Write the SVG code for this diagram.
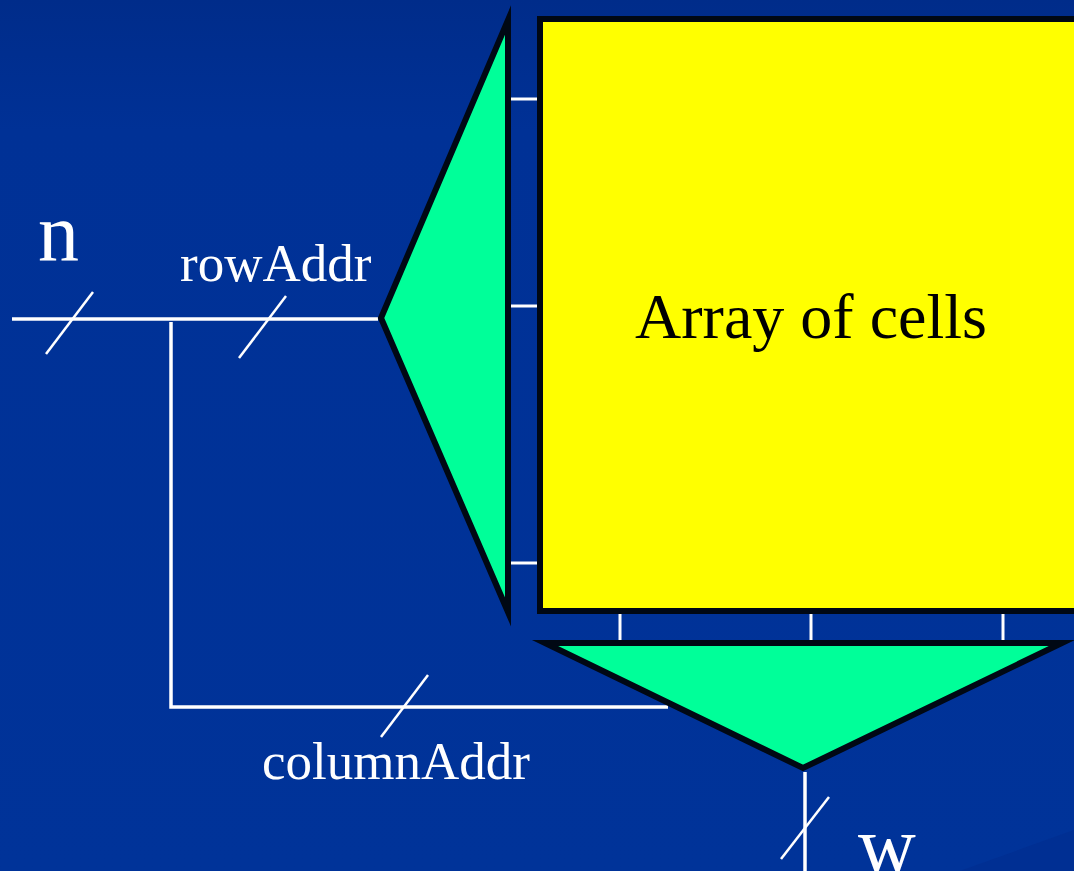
<svg xmlns="http://www.w3.org/2000/svg" width="1074" height="871" viewBox="0 0 1074 871">
<defs>
<linearGradient id="bg" x1="0" y1="0" x2="0" y2="1">
<stop offset="0" stop-color="#002C8A"/>
<stop offset="0.15" stop-color="#003196"/>
<stop offset="1" stop-color="#003399"/>
</linearGradient>
</defs>
<style>
.wire{stroke:#FFFFFF;stroke-width:3.5;fill:none}
.tick{stroke:#FFFFFF;stroke-width:3;fill:none}
.slash{stroke:#FFFFFF;stroke-width:2.5;fill:none}
.dec{fill:#00FF99;stroke:#000814;stroke-width:6;stroke-linejoin:miter;stroke-miterlimit:10}
.lbl{font-family:"Liberation Serif","Times New Roman",serif;fill:#FFFFFF}
</style>
<rect x="0" y="0" width="1074" height="871" fill="url(#bg)"/>
<polygon points="960,871 1074,830 1074,871" fill="#002E90" opacity="0.7"/>

<g id="connectors">
<line class="wire" x1="12" y1="319" x2="378" y2="319"/>
<polyline class="wire" points="171,322 171,707 668,707"/>
<line class="wire" x1="805" y1="772" x2="805" y2="871"/>
<line class="slash" x1="93" y1="292" x2="46" y2="354"/>
<line class="slash" x1="286" y1="296" x2="239" y2="358"/>
<line class="slash" x1="428" y1="675" x2="381" y2="737"/>
<line class="slash" x1="829" y1="797" x2="781" y2="859"/>
<line class="tick" x1="508" y1="99" x2="540" y2="99"/>
<line class="tick" x1="508" y1="306" x2="540" y2="306"/>
<line class="tick" x1="508" y1="563" x2="540" y2="563"/>
<line class="tick" x1="620" y1="611" x2="620" y2="643"/>
<line class="tick" x1="811" y1="611" x2="811" y2="643"/>
<line class="tick" x1="1003" y1="611" x2="1003" y2="643"/>
</g>

<g id="array">
<rect x="540" y="19" width="560" height="592" fill="#FFFF00" stroke="#000814" stroke-width="6"/>
<text x="811" y="338" font-family="Liberation Serif, Times New Roman, serif" font-size="64" fill="#000000" text-anchor="middle">Array of cells</text>
</g>

<g id="rowDecoder">
<polygon class="dec" points="508,20 508,612 381,318"/>
</g>

<g id="columnDecoder">
<polygon class="dec" points="545,643 1062,643 803,768"/>
</g>

<g id="labels">
<text class="lbl" x="38" y="260" font-size="82">n</text>
<text class="lbl" x="180" y="281" font-size="53">rowAddr</text>
<text class="lbl" x="262" y="779" font-size="53">columnAddr</text>
<text class="lbl" x="858" y="872" font-size="80">w</text>
</g>
</svg>
